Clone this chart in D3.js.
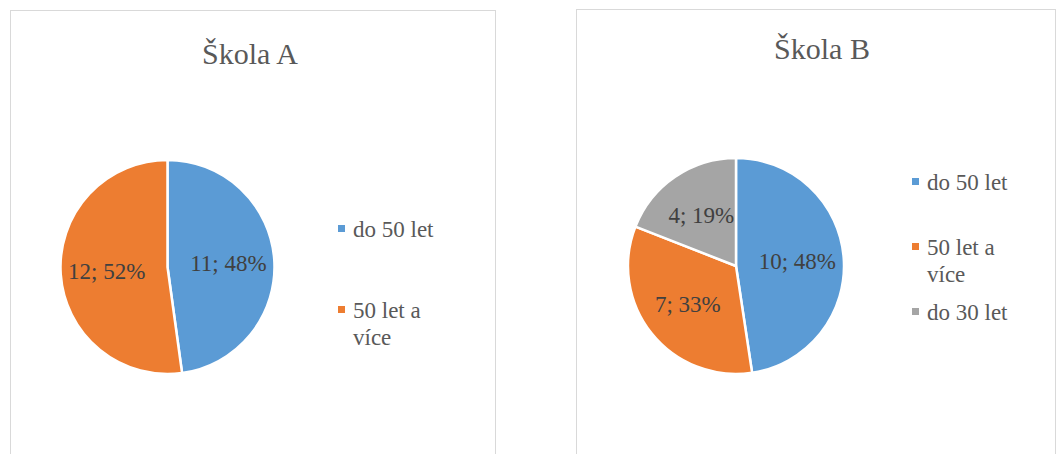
<!DOCTYPE html>
<html>
<head>
<meta charset="utf-8">
<script src="https://cdn.jsdelivr.net/npm/d3@7"></script>
<style>
  body { margin: 0; background: #fff; }
</style>
</head>
<body>
<div id="chart"></div>
<script>
// chart data
const chartTitles = ["Škola A", "Škola B"];
const categoriesA = ["do 50 let", "50 let a více"];
const valuesA = [11, 12];
const categoriesB = ["do 50 let", "50 let a více", "do 30 let"];
const valuesB = [10, 7, 4];
const colorsA = ["#5B9BD5", "#ED7D31"];
const colorsB = ["#5B9BD5", "#ED7D31", "#A5A5A5"];

const fontFamily = "'Liberation Serif', 'Times New Roman', Times, 'DejaVu Serif', serif";

// layout of the two chart boxes
const panels = [
  { title: chartTitles[0], categories: categoriesA, values: valuesA, colors: colorsA,
    box: [10, 10, 485, 470], cx: 167.5, cy: 267, r: 107,
    titleX: 250, titleY: 64, legendX: 338, legendY: 237, legendStep: 81 },
  { title: chartTitles[1], categories: categoriesB, values: valuesB, colors: colorsB,
    box: [576, 9, 479, 470], cx: 736, cy: 266, r: 108,
    titleX: 822, titleY: 59, legendX: 912, legendY: 190, legendStep: 65 }
];

const width = 1056, height = 454;

const svg = d3.select("#chart")
  .append("svg")
  .attr("width", width)
  .attr("height", height)
  .style("font-family", fontFamily);

svg.append("rect")
  .attr("width", width)
  .attr("height", height)
  .attr("fill", "#fff");

// wraps legend text into lines no wider than maxWidth
function wrapText(textSel, maxWidth, lineHeight) {
  textSel.each(function() {
    const text = d3.select(this);
    const words = text.text().split(/\s+/);
    const x = text.attr("x");
    text.text(null);
    let line = [];
    let tspan = text.append("tspan").attr("x", x).attr("dy", 0);
    words.forEach(word => {
      line.push(word);
      tspan.text(line.join(" "));
      if (tspan.node().getComputedTextLength() > maxWidth && line.length > 1) {
        line.pop();
        tspan.text(line.join(" "));
        line = [word];
        tspan = text.append("tspan").attr("x", x).attr("dy", lineHeight).text(word);
      }
    });
  });
}

panels.forEach(p => {
  const g = svg.append("g").attr("class", "panel");

  // chart border
  g.append("rect")
    .attr("x", p.box[0] + 0.5)
    .attr("y", p.box[1] + 0.5)
    .attr("width", p.box[2])
    .attr("height", p.box[3])
    .attr("fill", "#fff")
    .attr("stroke", "#d9d9d9")
    .attr("stroke-width", 1);

  // title
  g.append("text")
    .attr("x", p.titleX)
    .attr("y", p.titleY)
    .attr("text-anchor", "middle")
    .attr("font-family", fontFamily)
    .attr("font-size", 30)
    .attr("fill", "#595959")
    .text(p.title);

  const total = d3.sum(p.values);
  const data = p.categories.map((c, i) => ({ name: c, value: p.values[i], color: p.colors[i] }));

  const pie = d3.pie().sort(null).value(d => d.value);
  const arc = d3.arc().innerRadius(0).outerRadius(p.r);
  const labelArc = d3.arc().innerRadius(p.r * 0.57).outerRadius(p.r * 0.57);

  const pieG = g.append("g")
    .attr("transform", `translate(${p.cx},${p.cy})`);

  const arcs = pie(data);

  pieG.selectAll("path.slice")
    .data(arcs)
    .enter()
    .append("path")
    .attr("class", "slice")
    .attr("d", arc)
    .attr("fill", d => d.data.color)
    .attr("stroke", "#fff")
    .attr("stroke-width", 2.5)
    .attr("stroke-linejoin", "round");

  pieG.selectAll("text.label")
    .data(arcs)
    .enter()
    .append("text")
    .attr("class", "label")
    .attr("transform", d => `translate(${labelArc.centroid(d)})`)
    .attr("text-anchor", "middle")
    .attr("dy", "0.35em")
    .attr("font-family", fontFamily)
    .attr("font-size", 23)
    .attr("fill", "#404040")
    .text(d => `${d.data.value}; ${Math.round(d.data.value / total * 100)}%`);

  // legend
  const legend = g.selectAll("g.legend-item")
    .data(data)
    .enter()
    .append("g")
    .attr("class", "legend-item");

  legend.append("rect")
    .attr("x", p.legendX)
    .attr("y", (d, i) => p.legendY + i * p.legendStep - 12)
    .attr("width", 7)
    .attr("height", 7)
    .attr("fill", d => d.color);

  legend.append("text")
    .attr("x", p.legendX + 15)
    .attr("y", (d, i) => p.legendY + i * p.legendStep)
    .attr("font-family", fontFamily)
    .attr("font-size", 23)
    .attr("fill", "#595959")
    .text(d => d.name)
    .call(wrapText, 95, 27);
});
</script>
</body>
</html>
